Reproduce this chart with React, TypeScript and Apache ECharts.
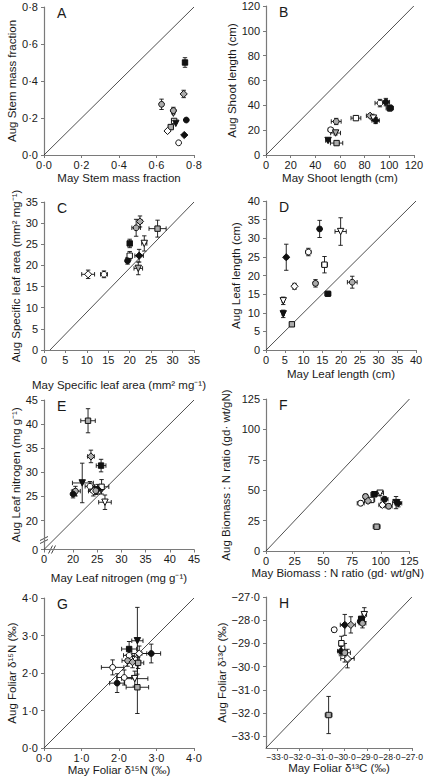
import React, { useEffect, useRef } from 'react';
import * as echarts from 'echarts';

// Each row: [species key, May value, Aug value, May s.e., Aug s.e.]
// species key: shape (c circle, s square, d diamond, t triangle-down) + fill (k black, w white, g grey)
const stemMass: [string, number, number, number, number][] = [
  ['sk', 0.752, 0.5, 0, 0.026],
  ['dg', 0.745, 0.33, 0, 0.02],
  ['cg', 0.627, 0.274, 0, 0.028],
  ['tg', 0.69, 0.226, 0, 0],
  ['cg', 0.69, 0.24, 0, 0.018],
  ['ck', 0.759, 0.189, 0, 0],
  ['sw', 0.694, 0.184, 0, 0],
  ['tk', 0.703, 0.171, 0, 0],
  ['sg', 0.676, 0.151, 0, 0],
  ['dw', 0.659, 0.13, 0, 0],
  ['dk', 0.748, 0.108, 0, 0],
  ['cw', 0.718, 0.066, 0, 0],
];
const shootLength: [string, number, number, number, number][] = [
  ['cw', 92.5, 41.8, 4, 3],
  ['ck', 97.3, 42.6, 3, 3],
  ['sk', 100.5, 37.8, 3, 2.5],
  ['dg', 84.5, 31.6, 3, 1.5],
  ['tw', 87.2, 29.7, 2, 2],
  ['dk', 89, 27.8, 3, 2.5],
  ['sw', 73, 29.7, 4, 1.5],
  ['cg', 57, 27, 4, 2.5],
  ['cw', 52.5, 20.3, 2, 1.5],
  ['tg', 56.5, 17.7, 4, 1.5],
  ['tk', 50.4, 11.7, 2, 1],
  ['sg', 57.3, 9.6, 5, 1],
];
const specificLeafArea: [string, number, number, number, number][] = [
  ['dg', 22.4, 30.4, 0.5, 1.3],
  ['cg', 21.5, 28.9, 1.0, 2.0],
  ['sg', 26.5, 28.7, 2.0, 2.0],
  ['tw', 23.4, 25.2, 0.6, 1.8],
  ['sk', 20.0, 25.2, 0.4, 1.0],
  ['sw', 20.0, 22.3, 0.4, 1.0],
  ['dk', 22.2, 22.3, 1.0, 1.5],
  ['ck', 19.5, 21.1, 0.5, 0.8],
  ['tg', 22.0, 19.3, 1.0, 1.5],
  ['dw', 10.3, 17.9, 1.5, 1.0],
  ['cw', 14.0, 17.9, 0.8, 0.8],
];
const leafLength: [string, number, number, number, number][] = [
  ['ck', 14.3, 32.5, 0.4, 2.3],
  ['tw', 19.9, 31.8, 1.5, 3.7],
  ['cw', 11.3, 26.3, 0.7, 1.0],
  ['dk', 5.4, 24.9, 0.4, 3.5],
  ['sw', 15.6, 22.9, 0.8, 2.2],
  ['dw', 7.6, 17.1, 0.5, 0.8],
  ['cg', 13.2, 17.9, 0.6, 1.0],
  ['cg', 23.0, 18.2, 1.3, 1.6],
  ['sk', 16.5, 15.1, 0.8, 0.3],
  ['tw', 4.6, 13.2, 0.3, 1.0],
  ['tk', 4.6, 9.7, 0.3, 1.0],
  ['sg', 6.9, 6.9, 0.5, 0.3],
];
const leafNitrogen: [string, number, number, number, number][] = [
  ['sg', 23.1, 40.7, 1.5, 2.5],
  ['dg', 23.7, 33.3, 0.7, 1.3],
  ['sk', 25.8, 31.4, 1.0, 1.3],
  ['tk', 21.9, 27.8, 2.3, 4.1],
  ['cw', 23.5, 27.1, 1.0, 1.0],
  ['sw', 25.9, 27.0, 1.5, 1.5],
  ['cg', 20.5, 26.1, 1.0, 1.0],
  ['ck', 20.0, 25.5, 0.7, 0.8],
  ['dw', 24.2, 26.1, 1.0, 1.0],
  ['dk', 25.1, 26.5, 1.0, 1.0],
  ['cg', 24.7, 26.2, 1.0, 0.8],
  ['tw', 26.6, 23.8, 1.3, 1.5],
];
const biomassN: [string, number, number, number, number][] = [
  ['cg', 86.7, 44.8, 2, 2],
  ['sk', 94.4, 46.7, 3, 2],
  ['tw', 99.4, 47.5, 3, 2],
  ['ck', 103.3, 42.6, 3, 2],
  ['sw', 91.7, 42, 3, 2],
  ['cw', 82.5, 39.3, 3, 2],
  ['dg', 88.9, 41.2, 3, 2],
  ['dw', 101.4, 37.9, 3, 2],
  ['cg', 106.9, 36.8, 3, 2],
  ['tk', 113.3, 39.8, 3, 5],
  ['dk', 115.3, 39.3, 3, 3],
  ['sg', 96.4, 20, 3, 0.5],
];
const foliarN15: [string, number, number, number, number][] = [
  ['tk', 2.49, 2.86, 0.15, 0.89],
  ['sk', 2.27, 2.64, 0.2, 0.2],
  ['ck', 2.86, 2.52, 0.25, 0.25],
  ['cw', 2.27, 2.47, 0.15, 0.2],
  ['dw', 2.54, 2.52, 0.2, 0.2],
  ['cg', 2.23, 2.33, 0.15, 0.15],
  ['dg', 2.36, 2.29, 0.15, 0.15],
  ['sg', 2.51, 2.27, 0.15, 0.15],
  ['cw', 1.83, 2.15, 0.3, 0.2],
  ['cw', 2.14, 1.88, 0.2, 0.2],
  ['ck', 1.95, 1.73, 0.2, 0.25],
  ['tw', 2.42, 1.85, 0.35, 0.2],
  ['sg', 2.49, 1.62, 0.3, 0.7],
];
const foliarC13: [string, number, number, number, number][] = [
  ['tw', -29.12, -27.76, 0.1, 0.3],
  ['sk', -29.26, -27.94, 0.1, 0.1],
  ['ck', -29.3, -28.05, 0.1, 0.1],
  ['tk', -29.22, -28.0, 0.1, 0.1],
  ['cg', -29.2, -28.13, 0.15, 0.2],
  ['dk', -29.99, -28.2, 0.2, 0.45],
  ['dg', -29.72, -28.2, 0.2, 0.35],
  ['cw', -30.46, -28.41, 0.1, 0.1],
  ['sw', -30.14, -28.99, 0.1, 0.3],
  ['dk', -30.16, -29.33, 0.15, 0.2],
  ['cg', -29.99, -29.4, 0.25, 0.4],
  ['dw', -29.87, -29.65, 0.3, 0.4],
  ['sg', -30.71, -32.08, 0.15, 0.8],
];

const panelLetters = ['A', 'B', 'C', 'D', 'E', 'F', 'G', 'H'];
const xTitles = [
  'May Stem mass fraction',
  'May Shoot length (cm)',
  'May Specific leaf area (mm² mg⁻¹)',
  'May Leaf length (cm)',
  'May Leaf nitrogen (mg g⁻¹)',
  'May Biomass : N ratio (gd· wt/gN)',
  'May Foliar δ¹⁵N (‰)',
  'May Foliar δ¹³C (‰)',
];
const yTitles = [
  'Aug Stem mass fraction',
  'Aug Shoot length (cm)',
  'Aug Specific leaf area (mm² mg⁻¹)',
  'Aug Leaf length (cm)',
  'Aug Leaf nitrogen (mg g⁻¹)',
  'Aug Biomass : N ratio (gd· wt/gN)',
  'Aug Foliar δ¹⁵N (‰)',
  'Aug Foliar δ¹³C (‰)',
];
// [min, max, tick interval, decimals]
const axisRanges: [number, number, number, number][] = [
  [0, 0.8, 0.2, 1],
  [0, 120, 20, 0],
  [0, 35, 5, 0],
  [0, 40, 5, 0],
  [0, 45, 5, 0],
  [0, 125, 25, 0],
  [0, 4, 1, 1],
  [-33.5, -27, 1, 1],
];
const leafNTicks = [0, 20, 25, 30, 35, 40, 45];
const c13Ticks = [-33, -32, -31, -30, -29, -28, -27];
// 1:1 reference lines [x0, y0, x1, y1]
const refLines: [number, number, number, number][] = [
  [0, 0, 0.8, 0.8],
  [0, 0, 120, 120],
  [1.4, 0, 35, 35],
  [0, 0, 40, 40],
  [0, 0, 45, 45],
  [0, 0, 125, 125],
  [0, 0, 4, 4],
  [-33.5, -33.5, -27, -27],
];
const panelData = [stemMass, shootLength, specificLeafArea, leafLength, leafNitrogen, biomassN, foliarN15, foliarC13];

// ---- layout & style ----
const FONT = '"Liberation Sans", Arial, Helvetica, sans-serif';
const AXIS_COLOR = '#7a7a7a';
const TEXT = '#1a1a1a';
const INK = '#111';
const FILL: Record<string, string> = { k: '#111', w: '#ffffff', g: '#ababab' };
const SHAPE: Record<string, string> = { c: 'circle', s: 'rect', d: 'diamond', t: 'triangle' };
const SIZE: Record<string, number> = { c: 5.8, s: 5.4, d: 7.2, t: 6.4 };

const grids = [
  { left: 44, top: 7, width: 150, height: 148 },
  { left: 266, top: 6, width: 150, height: 149 },
  { left: 44, top: 202, width: 150, height: 148 },
  { left: 266, top: 201, width: 150, height: 149 },
  { left: 44, top: 400, width: 150, height: 149.5 },
  { left: 266, top: 399, width: 150, height: 152 },
  { left: 44, top: 598, width: 150, height: 150 },
  { left: 266, top: 597, width: 150, height: 151 },
];
const xNameGap = [17, 17, 29, 18, 22, 16, 16, 14];
const yNameGap = [21, 25, 21, 24, 22, 34, 22, 32];

// axis break for panel E (0–20 compressed)
const tE = (v: number) => (v >= 20 ? v - 14 : v * 0.3);

function fmt(v: number, d: number) {
  return v.toFixed(d).replace('.', '·').replace('-', '−');
}

function buildOption() {
  const xAxis: any[] = [];
  const yAxis: any[] = [];
  const series: any[] = [];
  const graphic: any[] = [];

  panelData.forEach((rows, i) => {
    const [min, max, interval, dec] = axisRanges[i];
    const isE = i === 4;
    const isH = i === 7;
    const tr = isE ? tE : (v: number) => v;

    const makeAxis = (which: 'x' | 'y') => {
      const base: any = {
        type: 'value',
        gridIndex: i,
        min: isE ? tE(min) : min,
        max: isE ? tE(max) : max,
        name: which === 'x' ? xTitles[i] : yTitles[i],
        nameLocation: 'middle',
        nameGap: which === 'x' ? xNameGap[i] : yNameGap[i],
        nameTextStyle: { fontFamily: FONT, fontSize: 11.5, color: TEXT },
        axisLine: { show: true, onZero: false, lineStyle: { color: AXIS_COLOR, width: 1.2 } },
        axisTick: { show: true, inside: false, length: 3, lineStyle: { color: AXIS_COLOR, width: 1 } },
        axisLabel: {
          fontFamily: FONT,
          fontSize: isH && which === 'x' ? 8.6 : 11,
          color: TEXT,
          margin: which === 'x' ? 4 : 6,
          showMinLabel: true,
          showMaxLabel: true,
          hideOverlap: false,
          formatter: (v: number) => fmt(v, dec),
        },
        splitLine: { show: false },
      };
      if (isE) {
        const vals = leafNTicks.map(tE);
        base.axisTick.customValues = vals;
        base.axisLabel.customValues = vals;
        base.axisLabel.formatter = (v: number) => {
          const k = vals.findIndex((t) => Math.abs(t - v) < 1e-6);
          return k >= 0 ? String(leafNTicks[k]) : '';
        };
      } else if (isH) {
        base.axisTick.customValues = c13Ticks;
        base.axisLabel.customValues = c13Ticks;
      } else {
        base.interval = interval;
      }
      return base;
    };
    xAxis.push(makeAxis('x'));
    yAxis.push(makeAxis('y'));

    const [x0, y0, x1, y1] = refLines[i];
    series.push({
      type: 'line',
      xAxisIndex: i,
      yAxisIndex: i,
      data: [
        [tr(x0), tr(y0)],
        [tr(x1), tr(y1)],
      ],
      showSymbol: false,
      symbol: 'none',
      silent: true,
      lineStyle: { color: '#222', width: 0.8 },
      z: 1,
    });

    series.push({
      type: 'custom',
      xAxisIndex: i,
      yAxisIndex: i,
      silent: true,
      z: 2,
      data: rows.map((r) => [tr(r[1]), tr(r[2]), tr(r[1] - r[3]), tr(r[1] + r[3]), tr(r[2] - r[4]), tr(r[2] + r[4])]),
      renderItem: (params: any, api: any) => {
        const x = api.value(0), y = api.value(1);
        const xl = api.value(2), xh = api.value(3), yl = api.value(4), yh = api.value(5);
        const style = { stroke: INK, lineWidth: 0.9 };
        const cap = 2.2;
        const children: any[] = [];
        if (xh > xl) {
          const a = api.coord([xl, y]);
          const b = api.coord([xh, y]);
          children.push({ type: 'line', shape: { x1: a[0], y1: a[1], x2: b[0], y2: b[1] }, style });
          children.push({ type: 'line', shape: { x1: a[0], y1: a[1] - cap, x2: a[0], y2: a[1] + cap }, style });
          children.push({ type: 'line', shape: { x1: b[0], y1: b[1] - cap, x2: b[0], y2: b[1] + cap }, style });
        }
        if (yh > yl) {
          const a = api.coord([x, yl]);
          const b = api.coord([x, yh]);
          children.push({ type: 'line', shape: { x1: a[0], y1: a[1], x2: b[0], y2: b[1] }, style });
          children.push({ type: 'line', shape: { x1: a[0] - cap, y1: a[1], x2: a[0] + cap, y2: a[1] }, style });
          children.push({ type: 'line', shape: { x1: b[0] - cap, y1: b[1], x2: b[0] + cap, y2: b[1] }, style });
        }
        return { type: 'group', children };
      },
    });

    series.push({
      type: 'scatter',
      xAxisIndex: i,
      yAxisIndex: i,
      silent: true,
      z: 3,
      data: rows.map((r) => {
        const sh = r[0][0];
        const fl = r[0][1];
        return {
          value: [tr(r[1]), tr(r[2])],
          symbol: SHAPE[sh],
          symbolSize: SIZE[sh],
          symbolRotate: sh === 't' ? 180 : 0,
          itemStyle: { color: FILL[fl], borderColor: INK, borderWidth: 1, opacity: 1 },
        };
      }),
    });

    graphic.push({
      type: 'text',
      left: grids[i].left + 13,
      top: grids[i].top - 1,
      style: { text: panelLetters[i], font: `14px ${FONT}`, fill: TEXT },
    });
  });

  // break marks for panel E
  const g = grids[4];
  const yb = g.top + g.height;
  const breakStyle = { stroke: '#333', lineWidth: 0.9 };
  graphic.push(
    { type: 'rect', shape: { x: g.left - 2, y: yb - 10.5, width: 4, height: 3 }, style: { fill: '#fff' } },
    { type: 'line', shape: { x1: g.left - 4, y1: yb - 6, x2: g.left + 4, y2: yb - 10 }, style: breakStyle },
    { type: 'line', shape: { x1: g.left - 4, y1: yb - 9, x2: g.left + 4, y2: yb - 13 }, style: breakStyle },
    { type: 'rect', shape: { x: g.left + 6.5, y: yb - 2, width: 3, height: 4 }, style: { fill: '#fff' } },
    { type: 'line', shape: { x1: g.left + 4.5, y1: yb + 4, x2: g.left + 8.5, y2: yb - 4 }, style: breakStyle },
    { type: 'line', shape: { x1: g.left + 7.5, y1: yb + 4, x2: g.left + 11.5, y2: yb - 4 }, style: breakStyle }
  );

  return {
    animation: false,
    backgroundColor: '#ffffff',
    grid: grids.map((gr) => ({ ...gr, containLabel: false })),
    xAxis,
    yAxis,
    series,
    graphic,
  };
}

export default function App() {
  const ref = useRef<HTMLDivElement>(null);
  useEffect(() => {
    if (!ref.current) return;
    const chart = echarts.init(ref.current, undefined, { renderer: 'svg' });
    chart.setOption(buildOption() as any);
    return () => chart.dispose();
  }, []);
  return (
    <div
      ref={ref}
      style={{ position: 'fixed', left: 0, top: 0, width: 426, height: 778, background: '#fff' }}
    />
  );
}
